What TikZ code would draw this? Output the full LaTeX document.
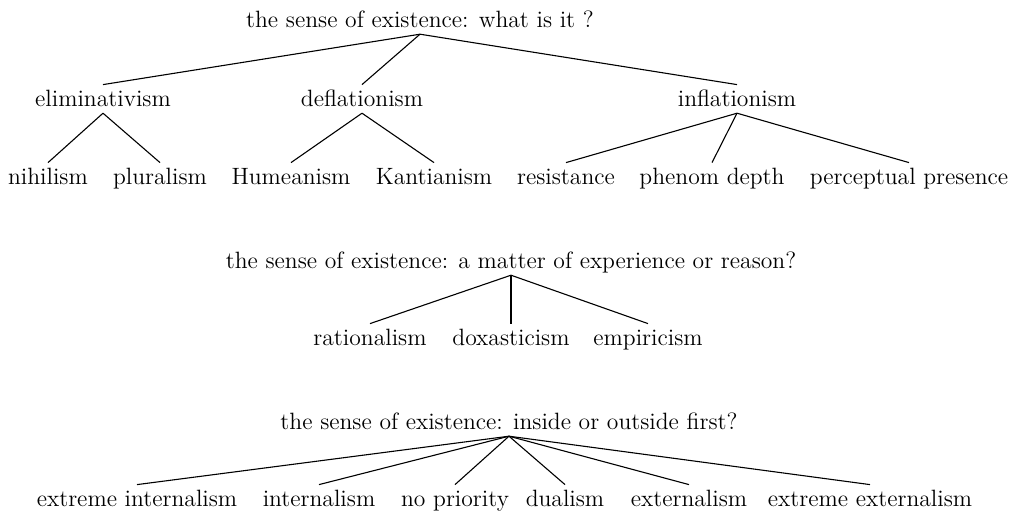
\documentclass[tikz,border=0pt]{standalone}
\begin{document}
\begin{tikzpicture}[x=0.5pt,y=-0.5pt,
  lbl/.style={anchor=base, font=\fontsize{11.8}{14}\selectfont, inner xsep=2pt, inner ysep=1.2pt, text height=9.3pt, text depth=2.2pt},
  edge/.style={line width=0.55pt}]
\useasboundingbox (0,0) rectangle (1015,514);
% tree 1
\node[lbl] (r1) at (420,27) {the sense of existence: what is it ?};
\node[lbl] (elim) at (103,106) {eliminativism};
\node[lbl] (defl) at (362,106) {deflationism};
\node[lbl] (infl) at (737,106) {inflationism};
\node[lbl] (nih) at (48,184) {nihilism};
\node[lbl] (plu) at (160,184) {pluralism};
\node[lbl] (hum) at (291,184) {Humeanism};
\node[lbl] (kant) at (434,184) {Kantianism};
\node[lbl] (res) at (566,184) {resistance};
\node[lbl] (phen) at (712,184) {phenom depth};
\node[lbl] (perc) at (909,184) {perceptual presence};
\foreach \c in {elim,defl,infl} \draw[edge] (r1.south) -- (\c.north);
\foreach \c in {nih,plu} \draw[edge] (elim.south) -- (\c.north);
\foreach \c in {hum,kant} \draw[edge] (defl.south) -- (\c.north);
\foreach \c in {res,phen,perc} \draw[edge] (infl.south) -- (\c.north);
% tree 2
\node[lbl] (r2) at (511,268) {the sense of existence: a matter of experience or reason?};
\node[lbl] (rat) at (370,345) {rationalism};
\node[lbl] (dox) at (511,345) {doxasticism};
\node[lbl] (emp) at (648,345) {empiricism};
\foreach \c in {rat,dox,emp} \draw[edge] (r2.south) -- (\c.north);
% tree 3
\node[lbl] (r3) at (509,429) {the sense of existence: inside or outside first?};
\node[lbl] (eint) at (137,506) {extreme internalism};
\node[lbl] (int) at (319,506) {internalism};
\node[lbl] (nop) at (455,506) {no priority};
\node[lbl] (dua) at (565,506) {dualism};
\node[lbl] (ext) at (689,506) {externalism};
\node[lbl] (eext) at (870,506) {extreme externalism};
\foreach \c in {eint,int,nop,dua,ext,eext} \draw[edge] (r3.south) -- (\c.north);
\end{tikzpicture}
\end{document}
